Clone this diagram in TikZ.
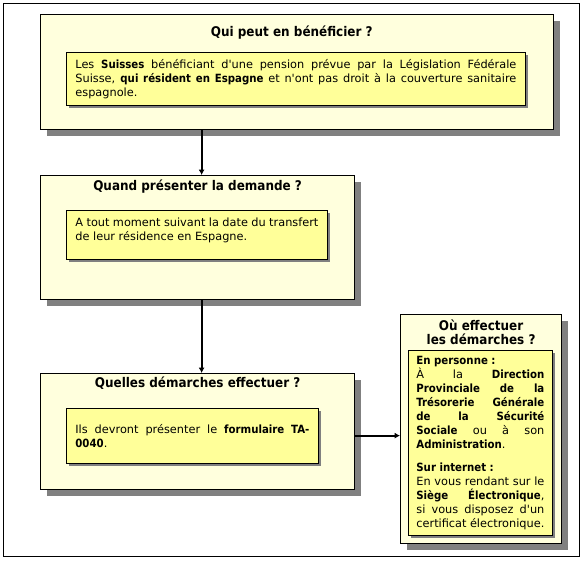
\documentclass[tikz,border=0pt]{standalone}
\usepackage{fontspec}
\setmainfont{DejaVu Sans}[BoldFont={DejaVu Sans Condensed Bold}]
\usetikzlibrary{arrows.meta,positioning,shadows}
\definecolor{fondpale}{HTML}{FFFFDD}
\definecolor{fondjaune}{HTML}{FFFF99}
\definecolor{ombre}{HTML}{808080}

\begin{document}
\begin{tikzpicture}[
    x=0.75pt, y=-0.75pt,
    cadre/.style={draw=black, line width=0.9pt, fill=fondpale, anchor=north west,
        inner sep=0pt,
        drop shadow={shadow xshift=4.5pt, shadow yshift=-4.5pt, fill=ombre, opacity=1}},
    titre/.style={inner sep=0pt, text height=7.5pt, text depth=2pt,
        font=\fontsize{10}{10.5}\selectfont\bfseries, align=center},
    texte/.style={draw=black, line width=0.6pt, fill=fondjaune, anchor=north west,
        inner xsep=6.75pt, inner ysep=4pt, align=justify,
        font=\fontsize{8.5}{10.5}\selectfont,
        drop shadow={shadow xshift=2pt, shadow yshift=-2pt, fill=ombre, opacity=1}},
    fleche/.style={-{Latex[length=4pt, width=4.5pt]}, line width=1.5pt}
]
\useasboundingbox (0,0) rectangle (583,562);
\draw[line width=0.75pt] (3,3) rectangle (579,556);

% boites principales
\node[cadre, minimum width=384.75pt, minimum height=86.25pt] (qui) at (40,14) {};
\node[cadre, minimum width=235.5pt, minimum height=93pt] (quand) at (40,175) {};
\node[cadre, minimum width=235.5pt, minimum height=87pt] (quelles) at (40,373) {};
\node[cadre, minimum width=120.75pt, minimum height=171.75pt] (ou) at (400,314) {};

% titres
\node[titre, below=9.5pt of qui.north, xshift=-4pt] (quiTitre) {Qui peut en bénéficier ?};
\node[titre, below=4.25pt of quand.north] (quandTitre) {Quand présenter la demande ?};
\node[titre, below=3.5pt of quelles.north] (quellesTitre) {Quelles démarches effectuer ?};
\node[titre, text height=18pt, below=5pt of ou.north] (ouTitre) {Où effectuer\\les démarches ?};

% textes
\node[texte, text width=330.75pt, minimum height=39.75pt] (quiTexte) at (66,52)
    {Les \textbf{Suisses} bénéficiant d\textquotesingle une pension prévue par la Législation Fédérale\linebreak
     Suisse, \textbf{qui résident en Espagne} et n\textquotesingle ont pas droit à la couverture sanitaire\linebreak
     espagnole.};
\node[texte, text width=182.25pt, minimum height=36.75pt] (quandTexte) at (66,210)
    {A tout moment suivant la date du transfert\\de leur résidence en Espagne.\\[-2.5pt]};
\node[texte, text width=175.5pt, minimum height=41.25pt] (quellesTexte) at (66,408)
    {Ils devront présenter le \textbf{formulaire TA-\linebreak 0040}.};
\node[texte, text width=96pt, minimum height=138.75pt, inner xsep=6pt] (ouTexte) at (408,350)
    {\textbf{En personne :}\\
     À la \textbf{Direction}\linebreak
     \textbf{Provinciale de la}\linebreak
     \textbf{Trésorerie Générale}\linebreak
     \textbf{de la Sécurité}\linebreak
     \textbf{Sociale} ou à son\linebreak
     \textbf{Administration}.\\[6.75pt]
     \textbf{Sur internet :}\\
     En vous rendant sur le\linebreak
     \textbf{Siège Électronique},\linebreak
     si vous disposez d\textquotesingle un\linebreak
     certificat électronique.};

\draw[fleche] (qui.south -| quand.north) ++(4,0) -- ([xshift=3pt]quand.north);
\draw[fleche] ([xshift=3pt]quand.south) -- ([xshift=3pt]quelles.north);
\draw[fleche] ([yshift=-3pt]quelles.east) -- ([yshift=-3pt]quelles.east -| ou.west);
\end{tikzpicture}
\end{document}
